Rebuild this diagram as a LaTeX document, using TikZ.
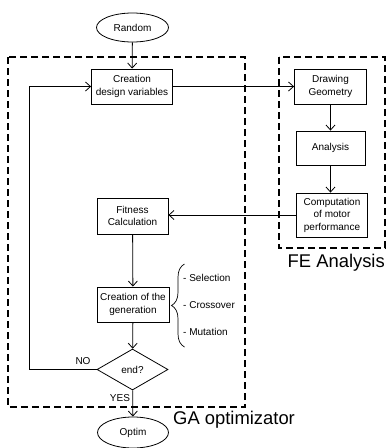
\documentclass[tikz,border=0pt]{standalone}
\usepackage{fontspec}
\setmainfont{Liberation Sans}
\usetikzlibrary{shapes.geometric,arrows.meta,decorations.pathreplacing}
\begin{document}
\begin{tikzpicture}[x=1pt,y=-1pt,
  box/.style={draw,thick,line width=0.8pt,align=center,inner sep=0pt,font=\fontsize{10}{12.5}\selectfont},
  term/.style={draw,line width=0.8pt,ellipse,inner sep=0pt,minimum width=72,minimum height=29,font=\fontsize{10}{12}\selectfont},
  frame/.style={draw,dashed,line width=1.6pt,dash pattern=on 7pt off 4pt},
  lbl/.style={inner sep=0pt,font=\fontsize{10}{12}\selectfont},
  biglbl/.style={inner sep=0pt,font=\fontsize{18.4}{22}\selectfont},
  >={Straight Barb[length=5pt,width=9pt]}]
\useasboundingbox (0,0) rectangle (387,448);
% dashed frames
\path[frame] (8,57) rectangle (245,407);
\path[frame] (279,57) rectangle (385,248);
\node[biglbl,anchor=base east] (fe) at (385,267) {FE Analysis};
\node[biglbl,anchor=base west] (ga) at (173,424) {GA optimizator};
% GA column
\node[term] (random) at (132.5,27.5) {Random};
\node[box,minimum width=81,minimum height=35] (creation) at (132,86.5) {Creation\\design variables};
\node[box,minimum width=71,minimum height=36] (fitness) at (132.5,216) {Fitness\\Calculation};
\node[box,minimum width=72,minimum height=35] (generation) at (133,304.5) {Creation of the\\generation};
\node[draw,line width=0.8pt,diamond,inner sep=0pt,minimum width=71,minimum height=41,font=\fontsize{10}{12}\selectfont] (end) at (132.5,369.5) {end?};
\node[term,minimum width=71,minimum height=31] (optim) at (133,432.5) {Optim};
% FE column
\node[box,minimum width=72,minimum height=35] (drawing) at (330.5,86.5) {Drawing\\Geometry};
\node[box,minimum width=69,minimum height=34] (analysis) at (330.5,148) {Analysis};
\node[box,minimum width=71,minimum height=44] (computation) at (332,215) {Computation\\of motor\\performance};
% operators
\draw[line width=0.7pt,decorate,decoration={brace,amplitude=13pt}] (184.5,347) -- (184.5,264);
\node[lbl,anchor=west] (sel) at (183,278) {- Selection};
\node[lbl,anchor=west] (cross) at (183,305) {- Crossover};
\node[lbl,anchor=west] (mut) at (183,332) {- Mutation};
% connections
\coordinate (turn) at (29,369.5);
\path[draw,line width=0.8pt,->] (random) -- (creation);
\path[draw,line width=0.8pt,->] (creation) -- (drawing);
\path[draw,line width=0.8pt,->] (drawing) -- (analysis);
\path[draw,line width=0.8pt,->] (analysis.south) -- (analysis.south |- computation.north);
\path[draw,line width=0.8pt,->] (computation) -- (computation -| fitness.east);
\path[draw,line width=0.8pt,->] (fitness) -- (generation);
\path[draw,line width=0.8pt,->] (generation) -- (end);
\path[draw,line width=0.8pt,->] (end.west) -- (turn) |- (creation.west);
\path[draw,line width=0.8pt,->] (end) -- (optim);
\node[lbl] (no) at (83,361) {NO};
\node[lbl] (yes) at (120,398) {YES};
\end{tikzpicture}
\end{document}
